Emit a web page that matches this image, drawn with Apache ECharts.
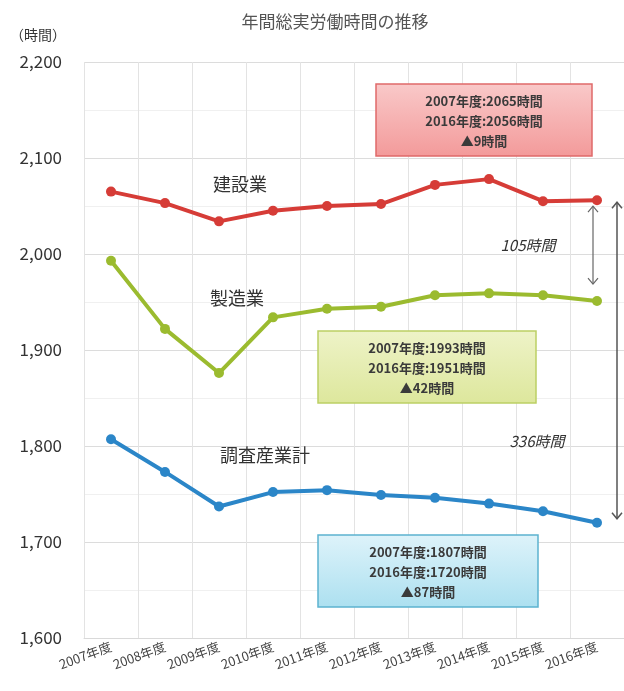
<!DOCTYPE html>
<html><head><meta charset="utf-8">
<script src="https://cdn.jsdelivr.net/npm/echarts@6/dist/echarts.min.js"></script>
<style>html,body{margin:0;padding:0;background:#fff}#c{width:624px;height:691px}</style>
</head><body><div id="c"></div>
<script>
const categories = ['2007年度','2008年度','2009年度','2010年度','2011年度','2012年度','2013年度','2014年度','2015年度','2016年度'];
const construction = [2065, 2053, 2034, 2045, 2050, 2052, 2072, 2078, 2055, 2056];
const manufacturing = [1993, 1922, 1876, 1934, 1943, 1945, 1957, 1959, 1957, 1951];
const allIndustries = [1807, 1773, 1737, 1752, 1754, 1749, 1746, 1740, 1732, 1720];
const seriesNames = ['建設業','製造業','調査産業計'];
const yTicks = {min:1600, max:2200, interval:100};
const boxTexts = [
  ['2007年度:2065時間','2016年度:2056時間','▲9時間'],
  ['2007年度:1993時間','2016年度:1951時間','▲42時間'],
  ['2007年度:1807時間','2016年度:1720時間','▲87時間']
];
const gapTexts = ['105時間','336時間'];

const FONT = '"Noto Sans CJK JP", "Noto Sans", sans-serif';
const chart = echarts.init(document.getElementById('c'));
const colors = ['#d63c37','#9bbb2f','#2b86c8'];
function ser(name, data, color){
  return {name, type:'line', data, color, symbol:'circle', symbolSize:10,
    lineStyle:{width:4, color}, itemStyle:{color}, z:5};
}
chart.setOption({
  animation:false,
  textStyle:{fontFamily:FONT},
  title:{text:'年間総実労働時間の推移', left:330, top:8, textAlign:'center',
    textStyle:{fontSize:17, fontWeight:'normal', color:'#555', fontFamily:FONT}},
  grid:{left:84, right:0, top:62, bottom:53},
  xAxis:{type:'category', data:categories, boundaryGap:true,
    axisLine:{show:true, lineStyle:{color:'#d9d9d9', width:1}},
    axisTick:{show:false},
    axisLabel:{rotate:20, fontSize:13, color:'#444', margin:8, interval:0, fontFamily:FONT},
    splitLine:{show:true, interval:0, lineStyle:{color:'#e3e3e3'}}},
  yAxis:{type:'value', min:yTicks.min, max:yTicks.max, interval:yTicks.interval,
    name:'（時間）', nameLocation:'end', nameGap:20,
    nameTextStyle:{align:'right', fontSize:14, color:'#333', padding:[0,18,0,0], fontFamily:FONT},
    axisLine:{show:false}, axisTick:{show:false},
    axisLabel:{fontSize:17, color:'#333', margin:22, fontFamily:FONT,
      formatter:v=>v.toLocaleString('en-US')},
    splitLine:{lineStyle:{color:'#dcdcdc'}},
    minorTick:{show:false, splitNumber:2},
    minorSplitLine:{show:true, lineStyle:{color:'#f0f0f0'}}},
  series:[ser(seriesNames[0], construction, colors[0]),
          ser(seriesNames[1], manufacturing, colors[1]),
          ser(seriesNames[2], allIndustries, colors[2])]
});

function box(x, y, w, h, lines, top, bottom, stroke){
  const children = [{type:'rect', shape:{x:0,y:0,width:w,height:h},
    style:{fill:new echarts.graphic.LinearGradient(0,0,0,1,[{offset:0,color:top},{offset:1,color:bottom}]),
      stroke, lineWidth:1.5}}];
  lines.forEach((t,i)=>children.push({type:'text', style:{text:t, x:w/2, y:17+i*20,
    textAlign:'center', textVerticalAlign:'middle', font:'bold 13px '+FONT, fill:'#3a3a3a'}}));
  return {type:'group', x, y, children, z:10};
}
function arrow(x, y1, y2, color, lw){
  const h = 6, hw = 5;
  return {type:'group', z:10, children:[
    {type:'line', shape:{x1:x,y1:y1,x2:x,y2:y2}, style:{stroke:color, lineWidth:lw}},
    {type:'polyline', shape:{points:[[x-hw,y1+h],[x,y1],[x+hw,y1+h]]}, style:{stroke:color, lineWidth:lw, fill:null}},
    {type:'polyline', shape:{points:[[x-hw,y2-h],[x,y2],[x+hw,y2-h]]}, style:{stroke:color, lineWidth:lw, fill:null}}
  ]};
}
const last = categories.length-1;
const yC = chart.convertToPixel({yAxisIndex:0}, construction[last]);
const yM = chart.convertToPixel({yAxisIndex:0}, manufacturing[last]);
const yA = chart.convertToPixel({yAxisIndex:0}, allIndustries[last]);
const xLast = chart.convertToPixel({xAxisIndex:0}, categories[last]);
const lbl = (t,x,y,opt)=>({type:'text', z:10, style:Object.assign({text:t, x, y, font:'18px '+FONT, fill:'#333', textAlign:'center', textVerticalAlign:'middle'}, opt||{})});
chart.setOption({graphic:[
  lbl(seriesNames[0], 240, 184),
  lbl(seriesNames[1], 237, 298),
  lbl(seriesNames[2], 265, 455),
  lbl(gapTexts[0], 528, 245, {font:'italic 15px '+FONT}),
  lbl(gapTexts[1], 537, 441, {font:'italic 15px '+FONT}),
  box(376, 84, 216, 72, boxTexts[0], '#f9c9c9', '#f39a9a', '#e06a6a'),
  box(318, 331, 218, 72, boxTexts[1], '#eef3c8', '#dde79c', '#bccf64'),
  box(318, 535, 220, 72, boxTexts[2], '#def3fa', '#ace0f0', '#5cb3cf'),
  arrow(xLast-4, yC+6, yM-17, '#666', 1.2),
  arrow(xLast+20, yC+2, yA-4, '#555', 1.5)
]});
</script></body></html>
